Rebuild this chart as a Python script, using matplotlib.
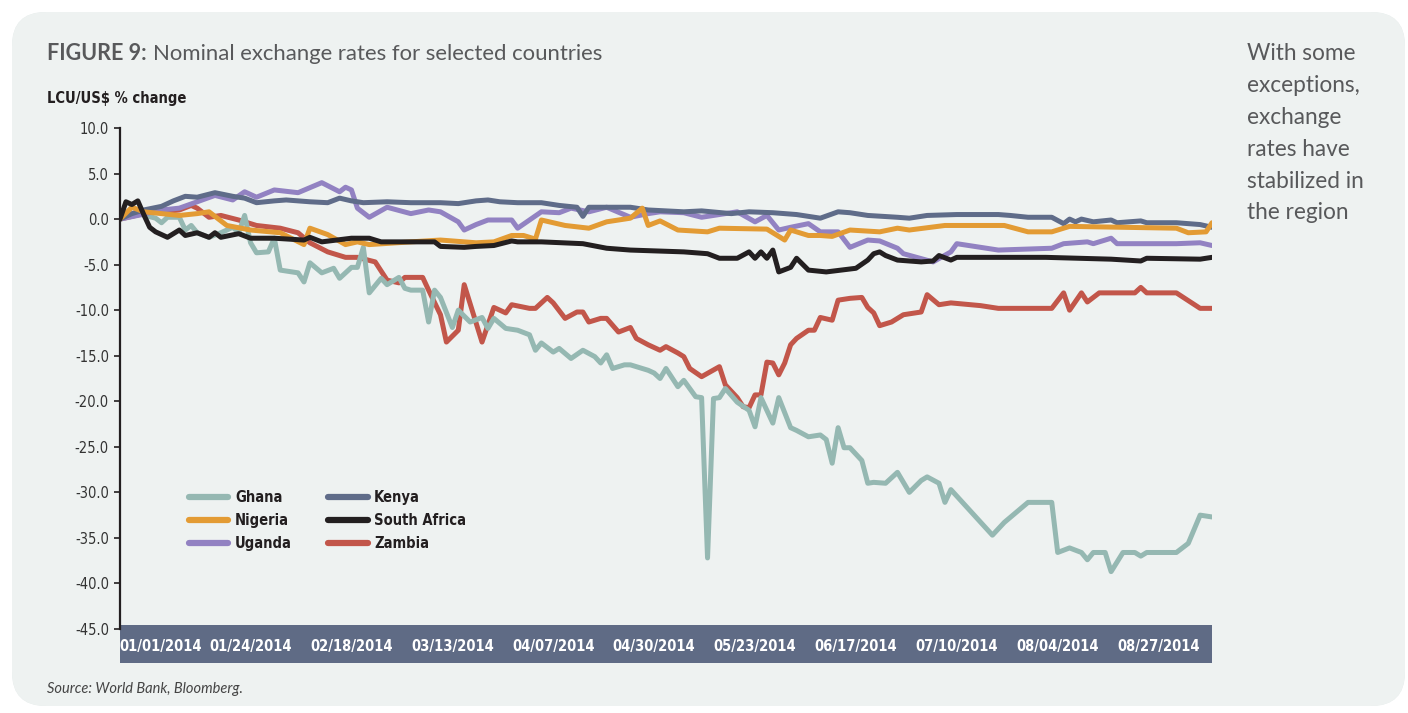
import matplotlib
matplotlib.use('Agg')
import matplotlib.pyplot as plt
import numpy as np
import pandas as pd
from matplotlib import font_manager
from matplotlib.patches import FancyBboxPatch, Rectangle

# values: (business day since 01/01/2014, % change LCU/US$)
ghana = [(0, 0.0), (3, 0.6), (6, 0.1), (7, -0.4), (8, 0.2), (10, 0.2), (11, -1.2), (12, -0.7),
         (13, -1.5), (15, -2.0), (17, -1.5), (19, -0.9), (20, -1.5), (21, 0.4), (22, -2.6),
         (23, -3.7), (25, -3.6), (26, -2.1), (27, -5.6), (30, -5.9), (31, -6.9), (32, -4.8),
         (34, -5.9), (36, -5.4), (37, -6.5), (39, -5.3), (40, -5.3), (41, -3.1), (42, -8.1),
         (44, -6.5), (45, -7.2), (47, -6.4), (48, -7.6), (49, -7.8), (51, -7.8), (52, -11.3),
         (53, -7.8), (54, -8.6), (56, -11.9), (57, -10.0), (59, -11.3), (61, -10.8), (62, -12.0),
         (63, -10.9), (65, -12.0), (67, -12.2), (69, -12.7), (70, -14.4), (71, -13.6), (73, -14.6),
         (74, -14.2), (76, -15.3), (78, -14.4), (80, -15.1), (81, -15.8), (82, -14.9), (83, -16.4),
         (85, -16.0), (86, -16.0), (89, -16.6), (90, -16.9), (91, -17.5), (92, -16.4), (94, -18.4),
         (95, -17.7), (97, -19.5), (98, -19.6), (99, -37.2), (100, -19.7), (101, -19.6),
         (102, -18.6), (104, -20.1), (106, -21.0), (107, -22.8), (108, -19.6), (110, -22.4),
         (111, -19.6), (113, -22.9), (114, -23.2), (116, -23.9), (118, -23.7), (119, -24.2),
         (120, -26.8), (121, -22.9), (122, -25.1), (123, -25.1), (125, -26.5), (126, -29.0),
         (127, -28.9), (129, -29.0), (131, -27.8), (133, -30.0), (135, -28.7), (136, -28.3),
         (138, -29.0), (139, -31.1), (140, -29.7), (147, -34.7), (149, -33.3), (153, -31.1),
         (157, -31.1), (158, -36.6), (160, -36.1), (162, -36.6), (163, -37.4), (164, -36.6),
         (166, -36.6), (167, -38.7), (169, -36.6), (171, -36.6), (172, -37.0), (173, -36.6),
         (178, -36.6), (180, -35.6), (182, -32.5), (184, -32.7)]

nigeria = [(0, 0.0), (2, 1.3), (4, 0.8), (7, 0.6), (10, 0.4), (13, 0.6), (15, 0.8), (18, -0.7),
           (22, -1.2), (27, -1.5), (31, -2.8), (32, -1.0), (35, -1.7), (38, -2.8), (40, -2.5),
           (42, -2.8), (49, -2.5), (54, -2.3), (60, -2.6), (63, -2.5), (66, -1.8), (68, -1.8),
           (70, -2.2), (71, -0.1), (75, -0.7), (79, -1.0), (82, -0.3), (86, 0.1), (88, 1.2),
           (89, -0.7), (91, -0.2), (94, -1.2), (99, -1.4), (101, -1.0), (109, -1.1), (112, -2.3),
           (113, -1.2), (116, -1.8), (118, -1.8), (120, -1.9), (123, -1.2), (128, -1.4),
           (131, -1.0), (133, -1.2), (139, -0.7), (149, -0.7), (153, -1.4), (157, -1.4),
           (160, -0.8), (178, -1.0), (180, -1.5), (183, -1.4), (184, -0.4)]

uganda = [(0, 0.0), (3, 0.4), (7, 1.0), (10, 1.2), (13, 1.9), (16, 2.6), (19, 2.1), (21, 3.0),
          (23, 2.4), (26, 3.2), (30, 2.9), (34, 4.0), (37, 3.0), (38, 3.5), (39, 3.2), (40, 1.2),
          (42, 0.2), (45, 1.3), (49, 0.6), (52, 1.0), (54, 0.8), (57, -0.3), (58, -1.2),
          (60, -0.6), (62, -0.1), (66, -0.1), (67, -1.0), (71, 0.8), (74, 0.7), (76, 1.2),
          (79, 0.8), (82, 1.3), (86, 0.2), (89, 0.6), (91, 0.8), (95, 0.7), (98, 0.2), (102, 0.6),
          (104, 0.8), (107, -0.3), (109, 0.4), (111, -1.2), (113, -0.9), (116, -0.5), (118, -1.4),
          (121, -1.4), (123, -3.1), (126, -2.3), (128, -2.4), (131, -3.2), (132, -3.8),
          (137, -4.7), (140, -3.6), (141, -2.7), (148, -3.4), (157, -3.2), (159, -2.7),
          (163, -2.5), (164, -2.7), (167, -2.1), (168, -2.7), (178, -2.7), (182, -2.6),
          (184, -2.9)]

kenya = [(0, 0.0), (2, 0.6), (4, 1.0), (7, 1.4), (9, 2.0), (11, 2.5), (13, 2.4), (16, 2.9),
         (19, 2.5), (21, 2.3), (23, 1.8), (26, 2.0), (28, 2.1), (32, 1.9), (35, 1.8), (37, 2.3),
         (39, 2.0), (41, 1.8), (45, 1.9), (49, 1.8), (54, 1.8), (57, 1.7), (60, 2.0), (62, 2.1),
         (64, 1.9), (67, 1.8), (71, 1.8), (74, 1.5), (77, 1.3), (78, 0.3), (79, 1.3), (82, 1.3),
         (86, 1.3), (89, 1.0), (95, 0.8), (98, 0.9), (103, 0.6), (106, 0.8), (110, 0.7),
         (114, 0.5), (118, 0.1), (121, 0.8), (123, 0.7), (126, 0.4), (131, 0.2), (133, 0.1),
         (136, 0.4), (141, 0.5), (148, 0.5), (150, 0.4), (153, 0.2), (157, 0.2), (159, -0.5),
         (160, 0.0), (161, -0.3), (162, 0.0), (164, -0.3), (167, -0.1), (168, -0.4),
         (172, -0.2), (173, -0.4), (178, -0.4), (182, -0.6), (184, -0.9)]

south_africa = [(0, 0.0), (1, 1.9), (2, 1.6), (3, 2.0), (4, 0.5), (5, -0.9), (6, -1.4), (8, -2.0),
                (10, -1.2), (11, -1.8), (13, -1.5), (15, -2.0), (16, -1.5), (17, -2.0), (20, -1.6),
                (22, -2.1), (26, -2.1), (31, -2.3), (32, -2.0), (34, -2.5), (39, -2.1), (42, -2.1),
                (44, -2.5), (53, -2.5), (54, -3.0), (58, -3.1), (60, -3.0), (63, -2.9), (66, -2.4),
                (67, -2.5), (71, -2.5), (78, -2.7), (82, -3.2), (86, -3.4), (95, -3.6), (99, -3.8),
                (101, -4.3), (104, -4.3), (106, -3.6), (107, -4.3), (108, -3.6), (109, -4.3),
                (110, -3.4), (111, -5.8), (113, -5.3), (114, -4.3), (116, -5.6), (119, -5.8),
                (124, -5.4), (126, -4.5), (127, -3.8), (128, -3.6), (129, -4.0), (131, -4.5),
                (135, -4.7), (137, -4.6), (138, -4.0), (140, -4.5), (141, -4.2), (156, -4.2),
                (167, -4.4), (172, -4.6), (173, -4.3), (182, -4.4), (184, -4.2)]

zambia = [(0, 0.0), (4, 0.6), (10, 1.0), (12, 1.5), (13, 1.2), (15, 0.2), (17, 0.4), (20, -0.1),
          (23, -0.7), (27, -1.0), (30, -1.5), (32, -2.6), (35, -3.6), (38, -4.2), (40, -4.2),
          (43, -4.7), (45, -6.7), (47, -7.0), (48, -6.4), (51, -6.4), (52, -7.8), (54, -10.5),
          (55, -13.5), (57, -12.2), (58, -7.2), (61, -13.5), (63, -9.7), (65, -10.3), (66, -9.4),
          (69, -9.8), (70, -9.8), (72, -8.6), (73, -9.2), (75, -10.9), (77, -10.2), (78, -10.2),
          (79, -11.3), (81, -10.9), (82, -10.9), (84, -12.4), (86, -11.9), (87, -13.1),
          (89, -13.8), (91, -14.4), (92, -14.0), (94, -14.7), (95, -15.1), (96, -16.4),
          (98, -17.3), (101, -16.2), (102, -18.2), (104, -19.6), (105, -20.6), (106, -20.7),
          (107, -19.3), (108, -19.3), (109, -15.7), (110, -15.8), (111, -17.1), (112, -15.8),
          (113, -13.8), (114, -13.1), (116, -12.2), (117, -12.2), (118, -10.8), (120, -11.1),
          (121, -8.9), (123, -8.7), (125, -8.6), (126, -9.7), (127, -10.3), (128, -11.7),
          (130, -11.3), (132, -10.5), (135, -10.2), (136, -8.3), (138, -9.4), (140, -9.2),
          (145, -9.5), (148, -9.8), (157, -9.8), (159, -8.1), (160, -10.0), (162, -8.1),
          (163, -9.1), (165, -8.1), (171, -8.1), (172, -7.5), (173, -8.1), (178, -8.1),
          (182, -9.8), (184, -9.8)]

series = {
    'Zambia': (zambia, '#c2564a'),
    'Ghana': (ghana, '#95b8b2'),
    'Uganda': (uganda, '#9282c2'),
    'Kenya': (kenya, '#5f6c89'),
    'Nigeria': (nigeria, '#e39b34'),
    'South Africa': (south_africa, '#231f20'),
}
legend_order = ['Ghana', 'Nigeria', 'Uganda', 'Kenya', 'South Africa', 'Zambia']

dates = pd.bdate_range('2014-01-01', periods=185)
label_days = list(range(0, 171, 17))
label_pos = [6.9] + [d + 5 for d in label_days[1:]]
y_ticks = np.arange(10, -46, -5)

# look for a condensed face, otherwise a compact sans
narrow = {'family': 'Roboto', 'stretch': 'normal'}
for f in font_manager.fontManager.ttflist:
    if 'Narrow' in f.name or 'Condensed' in f.name or f.stretch in ('condensed', 'semi-condensed'):
        narrow = {'family': f.name, 'stretch': f.stretch}
        break
installed = {f.name for f in font_manager.fontManager.ttflist}
body = 'Lato' if 'Lato' in installed else 'DejaVu Sans'

W, H = 1408, 713
fig = plt.figure(figsize=(W / 100, H / 100), dpi=100)

# rounded panel background, pixel coordinates
bg = fig.add_axes([0, 0, 1, 1], zorder=-5)
bg.set_xlim(0, W)
bg.set_ylim(H, 0)
bg.axis('off')
panel = FancyBboxPatch((12, 12), 1393, 694, boxstyle='round,pad=0,rounding_size=34',
                       facecolor='#eef2f1', edgecolor='none')
bg.add_patch(panel)
grad = np.linspace(0, 1, 256)
shade = np.clip(np.minimum(grad / 0.2, (1 - grad) / 0.1), 0, 1)
c0 = np.array([0.885, 0.915, 0.91])
c1 = np.array([0.945, 0.96, 0.955])
img = c0[None, None, :] + (c1 - c0)[None, None, :] * shade[None, :, None]
im = bg.imshow(np.repeat(img, 4, axis=0), extent=(12, 1405, 706, 12), aspect='auto')
im.set_clip_path(panel)
# date band under the plot
bg.add_patch(Rectangle((120, 625), 1092, 38, facecolor='#5f6b85', edgecolor='none'))

ax = fig.add_axes([120 / W, 1 - 629 / H, 1092 / W, 501 / H])
ax.set_facecolor('none')
for name, (pts, color) in series.items():
    xs, ys = zip(*pts)
    ax.plot(xs, ys, color=color, lw=3.6, solid_joinstyle='round', solid_capstyle='round',
            label=name)

ax.set_xlim(0, 184)
ax.set_ylim(-45, 10)
ax.set_yticks(y_ticks)
ax.set_yticklabels([f'{v:.1f}' for v in y_ticks], fontsize=10.5, color='#333333', **narrow)
ax.set_xticks([])
for side in ['top', 'right', 'bottom']:
    ax.spines[side].set_visible(False)
ax.spines['left'].set_linewidth(1.6)
ax.spines['left'].set_color('#231f20')
ax.tick_params(axis='y', direction='out', length=4, width=1.2, pad=4, color='#231f20')

for d, p in zip(label_days, label_pos):
    ax.text(p, 1 - (646 - 128) / 501, dates[d].strftime('%m/%d/%Y'),
            transform=ax.get_xaxis_transform(), ha='center', va='center', color='white',
            fontsize=10.5, fontweight='bold', clip_on=False, zorder=5, **narrow)

handles = {h.get_label(): h for h in ax.get_lines()}
leg = ax.legend([handles[n] for n in legend_order], legend_order, ncol=2, loc='upper left',
                bbox_to_anchor=(189 / W, 1 - 490 / H), bbox_transform=fig.transFigure,
                frameon=False, borderpad=0, borderaxespad=0, handlelength=2.7, handletextpad=0.45,
                columnspacing=2.5, labelspacing=0.55,
                prop={'family': narrow['family'], 'stretch': narrow['stretch'],
                      'weight': 'bold', 'size': 10.5})
for line in leg.get_lines():
    line.set_linewidth(4.5)
for t in leg.get_texts():
    t.set_color('#231f20')

t1 = fig.text(47 / W, 1 - 54 / H, 'FIGURE 9:', fontsize=15.5, fontweight='bold', family=body,
              color='#58595b', va='center')
r = fig.canvas.get_renderer()
x_end = t1.get_window_extent(r).x1
fig.text((x_end + 6) / W, 1 - 54 / H, 'Nominal exchange rates for selected countries',
         fontsize=15.9, family=body, color='#58595b', va='center')
fig.text(47 / W, 1 - 98 / H, 'LCU/US$ % change', fontsize=10.5, fontweight='bold',
         color='#231f20', va='center', **narrow)
fig.text(1247 / W, 1 - 43 / H, 'With some\nexceptions,\nexchange\nrates have\nstabilized in\nthe region',
         fontsize=16.3, family=body, color='#58595b', va='top', linespacing=1.64)
fig.text(47 / W, 1 - 689 / H, 'Source: World Bank, Bloomberg.', fontsize=10.5, style='italic',
         family=body, color='#444444', va='center')

plt.savefig('out.png', dpi=100)
plt.close()
